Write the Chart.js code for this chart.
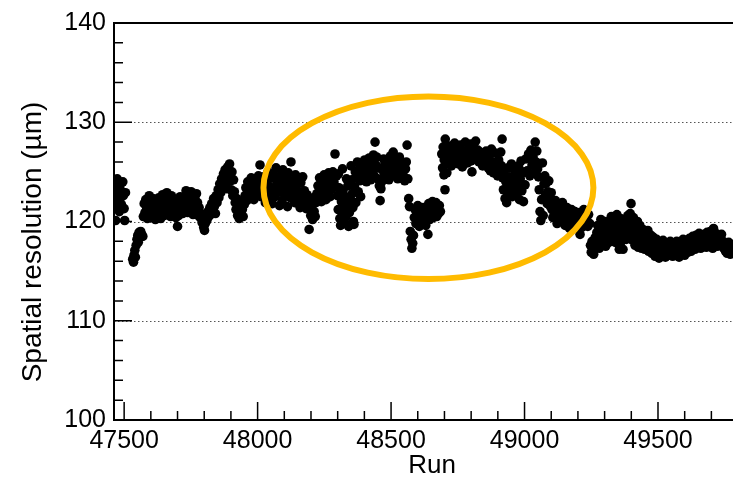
<!DOCTYPE html>
<html>
<head>
<meta charset="utf-8">
<title>Spatial resolution vs run</title>
<script src="https://cdn.jsdelivr.net/npm/chart.js@4.4.1/dist/chart.umd.min.js"></script>
<style>
  html, body { margin: 0; padding: 0; background: #fff; }
  #wrap { width: 733px; height: 479px; }
</style>
</head>
<body>
<div id="wrap"><canvas id="resChart" width="733" height="479"></canvas></div>
<script>
// --- Data (run number, spatial resolution in um) ---
const runsA = [
  47466,47468,47470,47472,47474,47477,47479,47482,47484,47487,47490,47492,47495,47497,47500,47502,47505,
  47532,47535,47537,47540,47542,47545,47548,47551,47553,47556,47559,47562,47566,47570,
  47572,47575,47578,47581,47584,47587,47590,47594,47597,47600,47604,47607,47610,47614,47617,47620,47624,47627,47630,47634,47637,47641,47644,47647,47650,47654,47657,47660,47664,47667,47670,47674,47677,47680,47684,47687,47690,47694,47697,47700,47704,47707,47710,47713,
  47716,47719,47722,47725,47728,47732,47735,47738,47741,47745,47748,47751,47755,47758,47761,47765,47768,47771,47775,47778,47781,47785,
  47788,47792,47795,47798,47801,47804,47807,47810,47814,47817,47821,47824,47828,47831,47835,47838,47842,
  47845,47848,47852,47855,47858,47862,47865,47868,47872,47875,47878,47882,47885,47888,47892,47895,47898,47901,47904,47907,47910,47913,47916,
  47919,47922,47925,47928,47931,47934,47937,47940,47943,47946,47950,
  47953,47956,47960,47963,47966,47970,47973,47976,47980,47983,47986,47990,47993,47996,48000,48003,48006,48009,48012
];
const resA = [
  122.8,120.1,123.9,121.6,124.3,122.1,123.2,121.0,123.6,122.4,121.7,123.0,124.0,122.6,121.3,120.1,122.9,
  116.2,115.9,116.6,117.1,116.4,117.6,118.2,118.6,117.9,118.9,118.4,119.0,118.7,118.5,
  120.5,121.8,120.9,122.2,121.4,120.3,121.9,122.6,121.0,120.4,121.6,122.3,120.8,121.3,120.2,122.0,121.5,120.7,122.4,121.1,120.3,121.8,122.7,121.2,120.6,122.1,121.5,122.9,121.0,122.3,121.6,120.5,122.6,121.3,120.9,122.0,121.4,120.4,121.7,119.5,120.6,121.9,122.5,121.2,
  122.0,120.8,121.6,122.4,121.1,123.1,122.2,120.9,121.7,122.6,121.3,123.0,122.1,120.7,121.5,122.4,121.0,122.8,121.9,120.6,121.4,120.4,
  120.8,119.9,120.4,119.4,119.1,119.8,120.6,120.1,121.0,120.5,121.4,120.7,121.8,121.1,122.3,121.5,120.8,
  122.6,121.9,123.2,122.4,123.8,122.9,124.3,123.5,124.8,123.7,125.2,124.4,123.3,125.5,124.6,125.8,124.1,123.2,125.0,122.6,124.2,123.0,121.9,
  121.2,122.3,120.6,121.5,120.3,121.8,120.9,122.0,121.2,120.5,121.7,
  122.6,123.4,122.1,124.0,123.0,122.4,123.7,124.4,122.9,123.5,122.2,124.1,123.3,122.7,123.9,124.6,123.1,125.7,122.5
];

const runsB = [
  48016,48019,48022,48026,48029,48032,48035,48039,48042,48045,48049,48052,48055,48059,48062,48065,48069,48072,48075,48079,48082,48085,48089,48092,48095,48099,48102,48105,48109,48112,48115,48119,48122,48125,48129,48132,48135,48139,48142,48145,48149,48152,48155,48159,48162,48165,48169,48172,48175,48179,48182,48185,
  48189,48193,48196,48199,48202,48206,48209,48212,48216,48219,48222,
  48226,48229,48232,48236,48239,48242,48246,48249,48252,48256,48259,48262,48266,48269,48272,48276,48279,48282,48286,48290,48293,48296,
  48299,48302,48303,48305,48308,48311,48314,48317,48318,48320,48323,48326,48329,48332,48333,48335,48338,48341,48344,48347,
  48350,48353,48355,48357,48359,48361,48363,48366,48368,48371,48374,48377,48380,48383,48386,48389
];
const resB = [
  123.8,122.6,124.5,123.2,121.9,124.1,122.8,125.0,123.6,122.3,124.4,123.1,121.8,124.8,123.4,122.5,125.4,124.0,122.9,123.7,121.6,124.6,123.0,122.1,125.2,123.8,122.7,124.3,123.2,121.5,124.9,123.5,122.4,126.0,124.1,122.9,123.6,121.9,124.7,123.3,122.2,124.2,122.8,121.4,123.9,122.5,124.5,121.7,123.1,122.0,121.3,122.7,
  121.8,119.2,122.2,120.6,121.5,120.2,122.4,121.0,120.5,121.9,122.8,
  123.6,122.3,124.4,123.1,122.0,124.0,122.7,124.7,123.4,122.2,124.2,123.0,124.9,123.7,122.5,124.5,123.3,125.0,124.0,126.8,123.5,124.6,
  122.6,121.2,124.8,123.4,120.3,119.6,122.0,120.8,125.3,123.1,121.5,119.9,122.5,120.5,124.3,121.7,123.6,119.5,120.9,122.3,
  125.6,124.2,122.8,121.4,120.0,119.7,123.5,125.0,121.9,124.5,126.0,123.0,125.3,124.1,122.5,125.8
];

const runsC = [
  48392,48395,48398,48401,48405,48408,48411,48414,48418,48421,48424,48428,48431,48434,48437,48440,48443,48446,48450,48453,48456,48459,48462,48465,48468,48472,48475,48478,48482,48485,48488,48492,48495,48498,48502,48505,48508,48511,48515,48518,48521,48525,48528,48531,48535,48538,48541,48545,48548,48551,48554,48557,48560,48563,
  48566,48569,48572,48575,48578,48581,48584,
  48587,48590,48593,48596,48600,48603,48606,48610,48613,48616,48620,48623,48626,48630,48633,48636,48638,48641,48645,48648,48651,48655,48658,48661,48665,48668,48671,48675,48678,48681,48685
];
const resC = [
  124.4,125.6,124.9,126.2,125.1,124.0,125.9,124.7,126.4,125.3,124.2,126.0,125.0,126.7,124.6,128.0,125.7,126.5,124.3,125.4,123.6,122.1,123.3,124.0,125.2,126.3,124.8,125.9,124.5,126.1,125.0,124.2,125.7,126.6,125.3,124.6,127.0,125.8,124.9,126.2,125.4,124.3,125.9,126.5,125.0,124.4,125.6,124.7,125.9,124.1,125.3,126.0,127.7,124.3,
  122.3,121.5,119.0,118.2,117.3,117.8,118.6,
  120.4,121.2,119.8,120.9,121.6,120.1,119.5,121.0,120.5,119.9,121.4,120.3,120.8,119.6,121.1,120.6,118.7,121.8,120.2,121.3,120.7,122.0,120.4,121.5,120.9,121.9,120.5,121.2,120.8,121.6,121.0
];

const runsD = [
  48690,48693,48695,48698,48699,48702,48703,48706,48707,48709,48711,48715,48719,48722,48726,48730,48734,48738,48741,48745,48749,48752,48756,48760,48763,48767,48771,48775,48778,48782,48786,48789,48793,48797,48800,48803,48806,48810,48814,48817,48821,48825,48829,48833,48838,48843,48848,48852,48856,48860,48864,48868,48872,48876,48880,48884,48887,48891,48895,48899,48903,48907,48911,48914,48916,
  48918,48921,48924,48927,48930,48933,48936,48939,48942,48945,48948,48951,48954,48957,48960,48963,48966,48969,48972,48975,48978,48981,48984,48987,48990,48993,48996,48999,49002,
  49005,49010,49015,49020,49024,49028,49032,49036,49040,49043,49046,49049,
  49052,49055,49058,49061,49064,49067,49070,49073,49076,49079,49082,49085,49088,49091,49094,49097,49100,49103
];
const resD = [
  126.8,125.4,127.5,124.7,126.2,123.2,128.3,126.6,127.0,124.9,125.9,126.7,127.6,126.3,125.6,127.2,126.5,127.9,126.0,126.9,127.4,125.8,126.4,127.7,126.8,125.5,127.0,126.2,128.0,126.6,125.9,127.3,126.4,127.8,126.1,125.0,126.9,127.5,126.3,128.1,126.7,127.2,126.0,127.0,126.4,125.6,126.8,125.9,127.1,126.2,125.4,126.6,125.1,127.3,126.0,124.9,125.8,126.9,125.3,124.6,126.2,125.0,127.0,125.6,128.3,
  124.4,123.2,125.1,122.3,124.0,121.9,123.6,125.4,122.8,124.5,123.4,125.8,122.5,124.1,123.0,125.2,123.8,122.6,124.7,123.5,125.6,122.2,124.3,126.1,123.1,124.9,122.0,125.0,123.7,
  126.3,125.1,126.8,124.6,127.2,125.7,126.5,124.9,128.0,126.0,127.1,125.3,
  124.5,123.2,121.0,120.1,122.2,125.9,120.6,123.8,124.6,122.7,123.9,121.8,123.0,124.1,122.4,121.5,122.9,121.2
];

const runsE = [
  49106,49109,49112,49116,49119,49122,49126,49129,49132,49136,49139,49142,49146,49149,49152,49156,49159,49162,49166,49169,49172,49176,49179,49182,49186,49189,49192,49196,49199,49202,49206,49208,49212,49215,49219,49222,49226,49229,
  49233,49237,49240,49244,
  49247,49250,49253,49256,49259,49262,49265,49268,49271,49274,49277,49280,49283,49286,49289,49292,49295,49298,49301,49304,49307,49310,49313,49316,49319,
  49322,49325,49328,49331,49334,49337,49340,49343,49346,49349,49352,49355,49357,49360,49363,49366,49369,49372,49375,49378,49381,
  49384,49387,49390,49393,49396,49399,49402,49405,49408,49411,49414,49417,49420,49423,49426,49429,49432,49435,49438,49441,49444
];
const resE = [
  120.4,121.7,120.8,122.1,121.2,119.8,120.9,121.6,120.3,121.3,120.6,121.9,120.1,121.0,119.6,120.7,121.4,120.2,121.1,119.3,120.5,121.2,120.0,120.8,119.7,121.0,120.3,119.5,120.6,119.9,120.9,118.7,120.2,119.4,120.5,121.2,119.8,120.6,
  120.1,119.5,120.7,119.8,
  117.6,116.9,118.0,117.2,116.7,117.9,118.4,117.4,118.9,119.6,118.1,117.3,119.2,120.2,118.6,117.8,119.5,118.3,120.0,117.5,119.0,118.2,119.8,117.9,118.7,
  119.4,120.5,118.3,119.9,118.8,120.1,117.9,119.2,120.7,118.5,119.6,117.2,118.9,120.3,118.0,119.5,117.2,118.7,120.2,119.0,118.2,
  119.7,120.6,118.6,119.9,120.8,121.8,119.3,118.1,120.4,119.0,117.6,119.8,118.4,120.0,117.4,118.9,119.6,118.0,117.3,118.7,119.2
];

const runsF = [
  49447,49450,49453,49456,49459,49462,49465,49468,49471,49474,49477,49480,49483,49486,49489,49492,49495,49498,49501,49504,49507,49510,49513,49516,49519,49522,49525,49528,49531,49534,49537,49540,49543,49546,49549,49552,49555,
  49558,49561,49564,49567,49570,49573,49576,49579,49582,49585,49588,49591,49594,49597,49600,49603,49606,49609,49612,49615,49618,49621,49624,49627,49630,49633,49636,49639,49642,49645,
  49648,49651,49654,49657,49660,49663,49666,49669,49672,49675,49678,49681,49684,49687,49690,49693,49696,49699,49702,49705,49708,49711,49714,49717,49720,49723,49726,49729,49732,49735,49738,49741,
  49744,49747,49750,49753,49756,49759,49762,49765,49768,49771,49774,49777,49780
];
const resF = [
  118.1,117.2,118.8,117.6,118.3,119.1,117.0,118.0,117.5,118.6,116.8,117.8,118.4,117.1,116.5,117.7,118.2,116.9,117.4,116.3,117.9,117.1,116.6,117.6,118.1,116.7,117.3,116.4,117.8,116.9,117.5,116.6,117.2,118.0,116.8,117.4,116.5,
  117.1,117.8,116.7,117.3,118.0,116.9,117.5,116.4,117.2,117.9,116.8,117.4,118.2,117.0,116.6,117.6,118.1,117.1,116.9,117.7,118.3,117.3,117.0,117.8,118.5,117.4,118.0,117.2,118.6,117.7,
  118.2,117.6,118.8,117.9,117.3,118.5,118.0,117.5,118.7,117.8,118.3,117.4,118.9,118.1,117.6,118.6,119.0,117.9,118.4,117.3,119.3,118.2,117.7,118.8,118.1,117.5,118.5,117.9,118.3,117.6,118.7,117.8,
  118.0,117.3,117.8,117.0,117.6,116.8,117.4,117.9,117.1,116.7,117.5,117.2,116.9
];

// axis ranges and ticks
const xRange = [47462, 49781];
const yRange = [100, 140];
const yGridValues = [110, 120, 130, 140];

// highlighted region (run / um)
const ellipseCenter = [48640, 123.4];
const ellipseRadius = [618, 9.2];

const FONT = '"Liberation Sans", Arial, Helvetica, sans-serif';

const runs = [...runsA, ...runsB, ...runsC, ...runsD, ...runsE, ...runsF];
const resolution = [...resA, ...resB, ...resC, ...resD, ...resE, ...resF];
const points = runs.map((r, i) => ({ x: r, y: resolution[i] }));

// ROOT-style frame: dotted grid, inward ticks, frame lines, ellipse and titles
const rootFrame = {
  id: 'rootFrame',
  beforeDatasetsDraw(chart) {
    const { ctx, chartArea: a, scales: { y } } = chart;
    ctx.save();
    ctx.strokeStyle = '#555';
    ctx.lineWidth = 1;
    ctx.setLineDash([1.5, 2.5]);
    yGridValues.forEach(v => {
      const py = Math.round(y.getPixelForValue(v)) + 0.5;
      ctx.beginPath();
      ctx.moveTo(a.left, py);
      ctx.lineTo(a.right, py);
      ctx.stroke();
    });
    ctx.restore();
  },
  afterDatasetsDraw(chart) {
    const { ctx, chartArea: a, scales: { x, y } } = chart;
    ctx.save();

    // orange ellipse
    const cx = x.getPixelForValue(ellipseCenter[0]);
    const cy = y.getPixelForValue(ellipseCenter[1]);
    const rx = x.getPixelForValue(ellipseCenter[0] + ellipseRadius[0]) - cx;
    const ry = cy - y.getPixelForValue(ellipseCenter[1] + ellipseRadius[1]);
    ctx.strokeStyle = '#ffbb00';
    ctx.lineWidth = 6;
    ctx.beginPath();
    ctx.ellipse(cx, cy, rx, ry, 0, 0, Math.PI * 2);
    ctx.stroke();

    // frame
    ctx.strokeStyle = '#000';
    ctx.lineWidth = 2;
    ctx.beginPath();
    ctx.moveTo(a.right, a.top);
    ctx.lineTo(a.left, a.top);
    ctx.lineTo(a.left, a.bottom);
    ctx.lineTo(a.right, a.bottom);
    ctx.stroke();

    // tick marks pointing inward
    ctx.lineWidth = 1.5;
    ctx.beginPath();
    y.ticks.forEach(t => {
      const py = y.getPixelForValue(t.value);
      const len = t.value % 10 === 0 ? 18 : 9;
      ctx.moveTo(a.left, py);
      ctx.lineTo(a.left + len, py);
    });
    x.ticks.forEach(t => {
      const px = x.getPixelForValue(t.value);
      const len = t.value % 500 === 0 ? 18 : 9;
      ctx.moveTo(px, a.bottom);
      ctx.lineTo(px, a.bottom - len);
    });
    ctx.stroke();

    // axis titles
    ctx.fillStyle = '#000';
    ctx.textAlign = 'center';
    ctx.textBaseline = 'middle';
    ctx.font = '26px ' + FONT;
    ctx.fillText('Run', 432, 466);
    ctx.translate(33, 242);
    ctx.rotate(-Math.PI / 2);
    ctx.font = '28px ' + FONT;
    ctx.fillText('Spatial resolution (\u00b5m)', 0, 0);
    ctx.restore();
  }
};

const ctx = document.getElementById('resChart');
new Chart(ctx, {
  type: 'scatter',
  data: {
    datasets: [{
      label: 'Spatial resolution',
      data: points,
      pointRadius: 4.8,
      pointHoverRadius: 4.8,
      pointBackgroundColor: '#000',
      pointBorderWidth: 0
    }]
  },
  options: {
    responsive: false,
    animation: false,
    events: [],
    layout: { padding: { top: 20, left: 0, right: 0, bottom: 0 }, autoPadding: false },
    plugins: {
      legend: { display: false },
      tooltip: { enabled: false }
    },
    scales: {
      x: {
        type: 'linear',
        min: xRange[0],
        max: xRange[1],
        afterFit: s => { s.height = 59; },
        grid: { display: false, drawTicks: false },
        border: { display: false },
        ticks: {
          stepSize: 100,
          includeBounds: false,
          autoSkip: false,
          maxRotation: 0,
          padding: 6,
          color: '#000',
          font: { family: FONT, size: 25 },
          callback: v => (v % 500 === 0 ? String(v) : '')
        }
      },
      y: {
        min: yRange[0],
        max: yRange[1],
        afterFit: s => { s.width = 114; },
        grid: { display: false, drawTicks: false },
        border: { display: false },
        ticks: {
          stepSize: 2,
          autoSkip: false,
          padding: 8,
          color: '#000',
          font: { family: FONT, size: 25 },
          callback: v => (v % 10 === 0 ? String(v) : '')
        }
      }
    }
  },
  plugins: [rootFrame]
});
</script>
</body>
</html>
